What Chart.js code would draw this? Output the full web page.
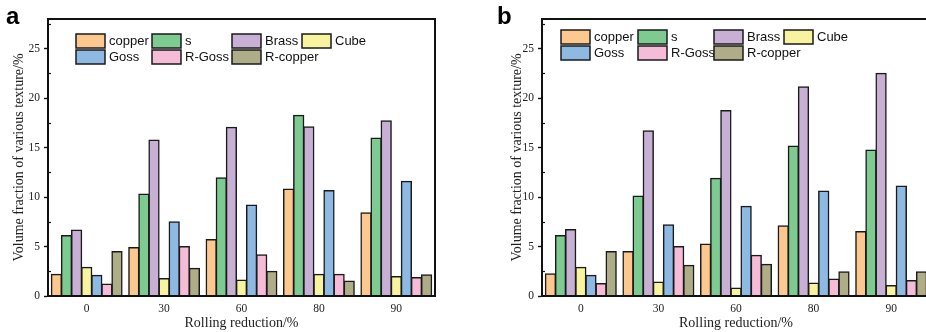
<!DOCTYPE html>
<html>
<head>
<meta charset="utf-8">
<script src="https://cdn.jsdelivr.net/npm/chart.js@4.4.0/dist/chart.umd.min.js"></script>
<style>
  html, body { margin:0; padding:0; background:#fff; overflow:hidden; }
  #wrap { position:relative; width:926px; height:332px; overflow:hidden; }
  #boxA { position:absolute; left:0; top:0; width:463px; height:332px; }
  #boxB { position:absolute; left:463px; top:0; width:480px; height:332px; }
  .lbl { position:absolute; font-family:"Liberation Sans", Arial, sans-serif; font-weight:bold; font-size:24px; line-height:24px; color:#000; }
</style>
</head>
<body>
<div id="wrap">
  <div id="boxA"><canvas id="cA" width="463" height="332"></canvas></div>
  <div id="boxB"><canvas id="cB" width="480" height="332"></canvas></div>
  <div class="lbl" style="left:6px; top:4px;">a</div>
  <div class="lbl" style="left:497px; top:4px;">b</div>
</div>
<script>
// ---------- data ----------
const categories = ['0', '30', '60', '80', '90'];
const seriesNames = ['copper', 's', 'Brass', 'Cube', 'Goss', 'R-Goss', 'R-copper'];
const yTickValues = [0, 5, 10, 15, 20, 25];

// panel a
const aCopper  = [2.2, 4.9, 5.7, 10.8, 8.4];
const aS       = [6.1, 10.3, 11.95, 18.25, 15.95];
const aBrass   = [6.65, 15.75, 17.05, 17.1, 17.7];
const aCube    = [2.9, 1.75, 1.6, 2.2, 1.95];
const aGoss    = [2.1, 7.5, 9.2, 10.65, 11.6];
const aRGoss   = [1.2, 5.0, 4.15, 2.2, 1.85];
const aRCopper = [4.5, 2.8, 2.5, 1.5, 2.15];

// panel b
const bCopper  = [2.25, 4.5, 5.25, 7.1, 6.5];
const bS       = [6.1, 10.1, 11.9, 15.15, 14.75];
const bBrass   = [6.7, 16.7, 18.75, 21.15, 22.5];
const bCube    = [2.9, 1.4, 0.8, 1.3, 1.05];
const bGoss    = [2.1, 7.2, 9.05, 10.6, 11.1];
const bRGoss   = [1.25, 5.0, 4.1, 1.7, 1.55];
const bRCopper = [4.5, 3.1, 3.2, 2.45, 2.45];

// ---------- styles ----------
const fills = ['#FDC88F', '#7DCB91', '#C8AFD4', '#F7F39E', '#8EB9E3', '#F6BBD7', '#AEAD87'];

const gridLegend = {
  id: 'gridLegend',
  afterDraw(chart, args, opts) {
    const ctx = chart.ctx;
    const left = chart.chartArea.left;
    ctx.save();
    ctx.font = '13px "Liberation Sans", Arial, sans-serif';
    ctx.textBaseline = 'middle';
    ctx.textAlign = 'left';
    chart.data.datasets.forEach((ds, i) => {
      const row = i < 4 ? 0 : 1;
      const col = i < 4 ? i : i - 4;
      const x = left + opts.cols[col];
      const y = opts.rows[row];
      ctx.fillStyle = ds.backgroundColor;
      ctx.fillRect(x, y, 29, 14);
      ctx.lineWidth = 1.5;
      ctx.strokeStyle = '#1a1a1a';
      ctx.strokeRect(x, y, 29, 14);
      ctx.fillStyle = '#111';
      ctx.fillText(ds.label, x + 33, y + 7.5);
    });
    ctx.restore();
  }
};

const frame = {
  id: 'frame',
  afterDraw(chart) {
    const ctx = chart.ctx;
    const a = chart.chartArea;
    const ys = chart.scales.y;
    ctx.save();
    ctx.strokeStyle = '#111';
    ctx.lineWidth = 1.2;
    // minor ticks (inward)
    for (let v = 2.5; v < ys.max; v += 5) {
      const py = Math.round(ys.getPixelForValue(v)) + 0.5;
      ctx.beginPath();
      ctx.moveTo(a.left, py);
      ctx.lineTo(a.left + 3, py);
      ctx.stroke();
    }
    ctx.lineWidth = 2;
    ctx.strokeRect(a.left, a.top, a.right - a.left, a.bottom - a.top);
    ctx.restore();
  }
};

function makeChart(id, seriesData, cfg) {
  const datasets = seriesNames.map((name, i) => ({
    label: name,
    data: seriesData[i],
    backgroundColor: fills[i],
    borderColor: '#1a1a1a',
    borderWidth: 1.5,
    borderSkipped: 'start',
    inflateAmount: 0.6,
    categoryPercentage: 0.913,
    barPercentage: 1.0
  }));
  return new Chart(document.getElementById(id), {
    type: 'bar',
    data: { labels: categories, datasets },
    plugins: [gridLegend, frame],
    options: {
      responsive: false,
      animation: false,
      devicePixelRatio: 1,
      layout: { padding: { top: 19, right: cfg.padRight, left: 0, bottom: 0 } },
      plugins: {
        legend: { display: false },
        tooltip: { enabled: false },
        gridLegend: { cols: cfg.cols, rows: cfg.rows }
      },
      scales: {
        x: {
          grid: { display: false, drawTicks: false },
          border: { display: true, color: '#111', width: 2 },
          ticks: { color: '#222', padding: 6, font: { family: '"Liberation Serif", "Times New Roman", serif', size: 11.5 } },
          title: {
            display: true, text: 'Rolling reduction/%', color: '#222',
            padding: { top: 0, bottom: 0 },
            font: { family: '"Liberation Serif", "Times New Roman", serif', size: 14 }
          },
          afterFit(s) { s.height = 36; }
        },
        y: {
          min: 0, max: 28,
          afterBuildTicks(s) { s.ticks = yTickValues.map(v => ({ value: v })); },
          grid: { display: true, drawOnChartArea: false, drawTicks: true, tickLength: 4, color: '#111', tickWidth: 1.4 },
          border: { display: true, color: '#111', width: 2 },
          ticks: { color: '#222', padding: 4, font: { family: '"Liberation Serif", "Times New Roman", serif', size: 11.5 } },
          title: {
            display: true, text: 'Volume fraction of various texture/%', color: '#222',
            padding: { top: cfg.titlePad, bottom: 0 },
            font: { family: '"Liberation Serif", "Times New Roman", serif', size: 14 }
          },
          afterFit(s) { s.width = cfg.yWidth; }
        }
      }
    }
  });
}

makeChart('cA', [aCopper, aS, aBrass, aCube, aGoss, aRGoss, aRCopper],
  { padRight: 28, yWidth: 48, titlePad: 11, cols: [28, 104, 184, 254], rows: [34, 50] });
makeChart('cB', [bCopper, bS, bBrass, bCube, bGoss, bRGoss, bRCopper],
  { padRight: 13, yWidth: 79, titlePad: 46, cols: [19, 96, 172, 242], rows: [30, 46] });
</script>
</body>
</html>
